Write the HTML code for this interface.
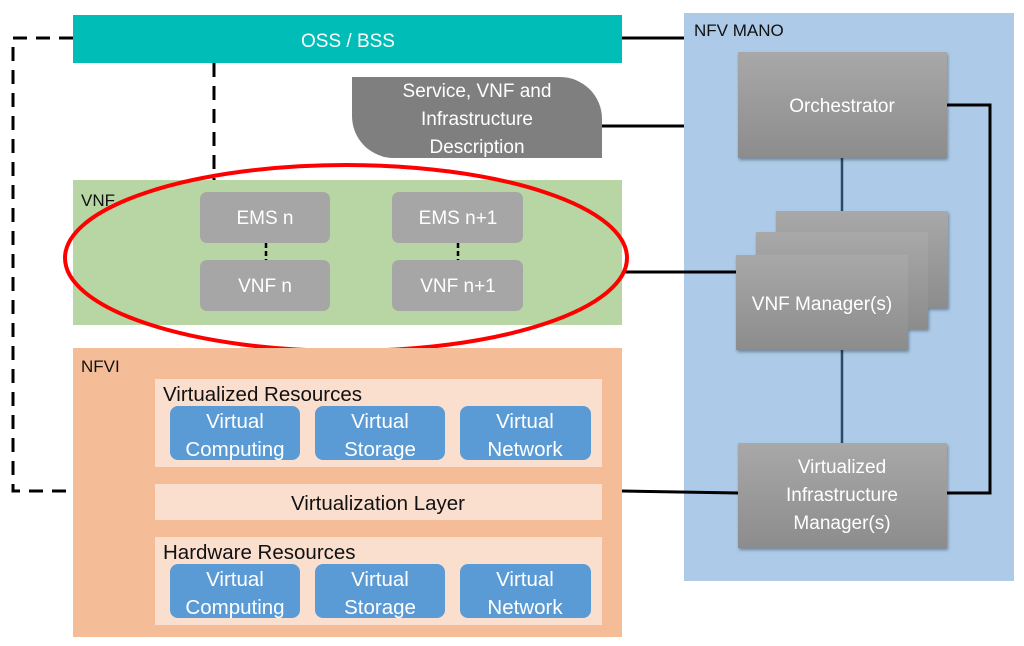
<!DOCTYPE html>
<html><head><style>body{margin:0;background:#fff}svg{display:block}text{font-family:"Liberation Sans",sans-serif}</style></head>
<body>
<svg width="1024" height="646" viewBox="0 0 1024 646" xmlns="http://www.w3.org/2000/svg">
<defs>
<linearGradient id="g" x1="0" y1="0" x2="0" y2="1"><stop offset="0" stop-color="#a8a8a8"/><stop offset="1" stop-color="#8c8c8c"/></linearGradient>
<filter id="s" x="-10%" y="-10%" width="130%" height="130%"><feDropShadow dx="1" dy="2" stdDeviation="1.5" flood-color="#000" flood-opacity="0.35"/></filter>
</defs>
<rect x="684" y="13" width="330" height="568" fill="#adcbe8"/>
<text x="694" y="36" font-size="17" fill="#111">NFV MANO</text>
<g stroke="#000" stroke-width="3" fill="none">
<line x1="622" y1="38" x2="684" y2="38"/>
<line x1="602" y1="126" x2="684" y2="126"/>
<line x1="622" y1="272" x2="736" y2="272"/>
<line x1="622" y1="491" x2="738" y2="493"/>
<polyline points="947,105 990,105 990,493 947,493"/>
</g>
<g stroke="#2a4a6a" stroke-width="2.5">
<line x1="842" y1="158" x2="842" y2="211"/>
<line x1="842" y1="350" x2="842" y2="443"/>
</g>
<g stroke="#000" stroke-width="3" fill="none" stroke-dasharray="14,9">
<polyline points="73,38 13,38 13,491 73,491"/>
<line x1="214" y1="63" x2="214" y2="180"/>
</g>
<rect x="73" y="15" width="549" height="48" fill="#00bdb7"/>
<text x="348" y="47" font-size="19" fill="#fff" text-anchor="middle">OSS / BSS</text>
<path d="M352,77 H560 A42,42 0 0 1 602,119 V158 H394 A42,42 0 0 1 352,116 Z" fill="#7f7f7f"/>
<text x="477" y="97" font-size="19" fill="#fff" text-anchor="middle">Service, VNF and</text>
<text x="477" y="125" font-size="19" fill="#fff" text-anchor="middle">Infrastructure</text>
<text x="477" y="153" font-size="19" fill="#fff" text-anchor="middle">Description</text>
<rect x="73" y="180" width="549" height="145" fill="#b7d6a4"/>
<text x="81" y="206" font-size="17" fill="#111">VNF</text>
<g fill="#a6a6a6">
<rect x="200" y="192" width="130" height="51" rx="7"/>
<rect x="200" y="260" width="130" height="51" rx="7"/>
<rect x="392" y="192" width="131" height="51" rx="7"/>
<rect x="392" y="260" width="131" height="51" rx="7"/>
</g>
<g stroke="#000" stroke-width="2.5" stroke-dasharray="5,3"><line x1="266" y1="243" x2="266" y2="260"/><line x1="458" y1="243" x2="458" y2="260"/></g>
<g font-size="19" fill="#fff" text-anchor="middle">
<text x="265" y="224">EMS n</text><text x="265" y="292">VNF n</text>
<text x="458" y="224">EMS n+1</text><text x="458" y="292">VNF n+1</text>
</g>
<ellipse cx="346" cy="258" rx="281" ry="93" fill="none" stroke="#f00" stroke-width="4"/>
<rect x="73" y="348" width="549" height="289" fill="#f5bc98"/>
<text x="81" y="372" font-size="17" fill="#111">NFVI</text>
<g fill="#fadfcf">
<rect x="155" y="379" width="447" height="88"/>
<rect x="155" y="484" width="447" height="36"/>
<rect x="155" y="537" width="447" height="88"/>
</g>
<text x="163" y="401" font-size="20.5" fill="#111">Virtualized Resources</text>
<text x="378" y="510" font-size="20.5" fill="#111" text-anchor="middle">Virtualization Layer</text>
<text x="163" y="559" font-size="20.5" fill="#111">Hardware Resources</text>
<g fill="#5b9bd5">
<rect x="170" y="406" width="130" height="54" rx="8"/><rect x="315" y="406" width="130" height="54" rx="8"/><rect x="460" y="406" width="131" height="54" rx="8"/>
<rect x="170" y="564" width="130" height="54" rx="8"/><rect x="315" y="564" width="130" height="54" rx="8"/><rect x="460" y="564" width="131" height="54" rx="8"/>
</g>
<g font-size="20.5" fill="#fff" text-anchor="middle">
<text x="235" y="428">Virtual</text><text x="235" y="456">Computing</text>
<text x="380" y="428">Virtual</text><text x="380" y="456">Storage</text>
<text x="525" y="428">Virtual</text><text x="525" y="456">Network</text>
<text x="235" y="586">Virtual</text><text x="235" y="614">Computing</text>
<text x="380" y="586">Virtual</text><text x="380" y="614">Storage</text>
<text x="525" y="586">Virtual</text><text x="525" y="614">Network</text>
</g>
<g fill="url(#g)" filter="url(#s)">
<rect x="738" y="52" width="209" height="106"/>
<rect x="776" y="211" width="172" height="97"/>
<rect x="756" y="232" width="172" height="97"/>
<rect x="736" y="255" width="172" height="95"/>
<rect x="738" y="443" width="209" height="105"/>
</g>
<g font-size="19" fill="#fff" text-anchor="middle">
<text x="842" y="112">Orchestrator</text>
<text x="822" y="310">VNF Manager(s)</text>
<text x="842" y="473">Virtualized</text>
<text x="842" y="501">Infrastructure</text>
<text x="842" y="529">Manager(s)</text>
</g>
</svg>
</body></html>
